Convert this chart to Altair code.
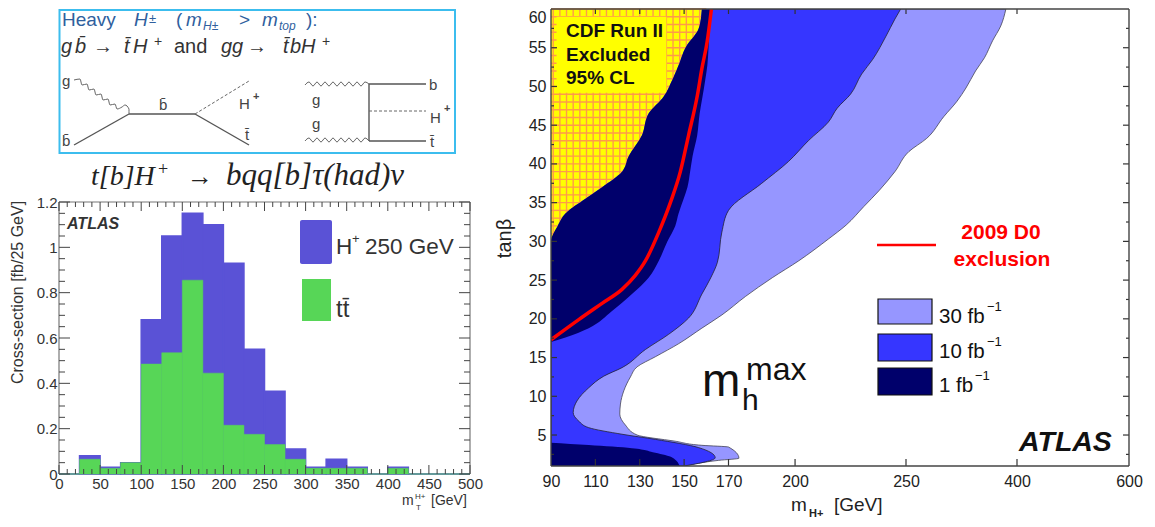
import altair as alt
import pandas as pd

# ---- histogram values (per 25 GeV bin)
bin_lo = list(range(0, 500, 25))
bin_hi = [b + 25 for b in bin_lo]
signal = [0, .08, .03, .05, .68, 1.05, 1.15, 1.10, .93, .55, .365, .11, .03, .065, .03, 0, .03, 0, 0, 0]
ttbar = [0, .065, .025, .05, .485, .535, .855, .445, .215, .175, .13, .065, .025, .025, .025, 0, .025, 0, 0, 0]
hist_x_major = list(range(0, 501, 50))
hist_x_minor = [v for v in range(0, 501, 10) if v % 50]
hist_y_major = [0, .2, .4, .6, .8, 1, 1.2]
hist_y_minor = [.05, .1, .15, .25, .3, .35, .45, .5, .55, .65, .7, .75, .85, .9, .95, 1.05, 1.1, 1.15]

# ---- contour boundaries (tan beta, m_H+)
c30_y = [1, 1.73, 2, 3.45, 3.67, 4.2, 5, 6.3, 7.7, 9, 10.7, 12.5, 13.8, 15.1, 16.8, 18.8, 20.5, 22.9, 25.3, 27.5, 30.3, 32.1, 34.5, 36.6, 39, 41.6, 43.3, 46.1, 48.1, 49.8, 52, 53.7, 55.9, 57.8, 60]
c30_x = [150, 165.6, 174.7, 170, 158, 146, 128.8, 123.5, 121, 121.3, 122.8, 125.8, 128.8, 137, 147.6, 158, 167, 177.7, 189.7, 201.7, 215, 223, 231, 238, 245, 254, 278, 301, 319, 331, 344, 356, 367, 378, 385]
c10_y = [1, 2.07, 3.37, 4.44, 5.1, 5.95, 6.8, 7.9, 9.4, 11.1, 12.6, 13.7, 16.05, 18, 20.1, 23.2, 25.3, 27.3, 31.2, 34, 37.5, 40.3, 43, 45.4, 47.2, 49, 51.6, 53.5, 56.5, 58.7, 60]
c10_x = [150, 164, 156.6, 137, 122, 107, 102.5, 100, 101.7, 107, 113.8, 122, 132.6, 143, 152, 158, 162, 165, 167, 170, 185, 197, 206, 215, 219, 225, 230, 235, 241, 245, 247.6]
d_y = [17, 17.6, 18.8, 21, 23.2, 25.3, 27.5, 30, 32, 33.6, 35.5, 37, 39, 41, 43.7, 46.5, 48.7, 50.8, 52.8, 55, 57.5, 60]
d_left = [90, 90, 90, 90, 90, 90, 90, 90, 93, 96.5, 105.5, 113, 122, 125, 131, 134, 140.8, 144.6, 147.6, 150.6, 156.6, 158]
d_right = [90, 96.5, 107, 117.5, 126.5, 134, 138.6, 142.5, 146, 147.5, 149.8, 151.5, 152.7, 153.8, 155.9, 157, 158.3, 159.5, 160.5, 161, 161.5, 162.3]
low_y = [1, 2.1, 2.7, 3.3, 3.7, 4]
low_x = [148, 144.6, 137, 126.5, 107, 90]
red_x = [90, 102.5, 113, 122, 128, 132.6, 138.6, 143.8, 148.3, 152, 156, 158, 160.4, 162.3]
red_y = [17.3, 19.9, 22, 23.8, 25.6, 27.5, 31.2, 35, 39, 43.7, 48.9, 52.3, 55.8, 60]
hatch_rows = list(range(31, 61))
hatch_row_end = [95, 96, 98, 100, 106, 110, 116, 120, 125, 127, 128, 130, 133, 135, 137, 137, 140, 142, 145, 147, 148, 150, 151, 152, 154, 156, 158, 159, 160, 160]
hatch_cols = [91, 94, 97, 100, 103, 106, 109, 112, 115, 118, 121, 124, 127, 130, 133, 136, 139, 142, 145, 148, 151, 154, 157]
hatch_col_low = [30, 32, 33, 33.5, 34, 34.5, 35, 36, 36.5, 37, 38, 39, 41, 42, 44, 46, 47, 48, 50, 52, 54, 55, 57]
cont_x_ticks = [90, 110, 130, 150, 170, 200, 250, 400, 600]
cont_y_major = list(range(5, 61, 5))
cont_y_minor = [2.5, 7.5, 12.5, 17.5, 22.5, 27.5, 32.5, 37.5, 42.5, 47.5, 52.5, 57.5]

# ---- layout (screen pixels)
TOP_O, TOP_W, TOP_H = (60, 8), 411, 182
HIST_O, HIST_W, HIST_H = (60, 201), 411, 272
CONT_O, CONT_W, CONT_H = (552, 8), 578, 457

SANS = "Liberation Sans"
SERIF = "Liberation Serif"
PURPLE, GREEN = "#5A52D6", "#57D657"
C1, C10, C30 = "#00006B", "#3636FF", "#9696FF"

AXES = {}


def X(field, scale):
    return alt.X(field, scale=scale, axis=AXES[id(scale)])


def Y(field, scale):
    return alt.Y(field, scale=scale, axis=AXES[id(scale)], stack=None)


def piece(v, dom, rng):
    """position on screen -> value on a (piecewise) linear scale"""
    for i in range(len(dom) - 1):
        if i == len(dom) - 2 or (rng[i + 1] - v) * (rng[1] - rng[0]) >= 0:
            return dom[i] + (v - rng[i]) * (dom[i + 1] - dom[i]) / (rng[i + 1] - rng[i])


class Panel:
    def __init__(self, origin, xscale, yscale):
        self.o, self.x, self.y = origin, xscale, yscale

    def texts(self, rows, **mark):
        """rows: (text, screen x, screen y of the baseline)"""
        df = pd.DataFrame(rows, columns=["t", "px", "py"])
        df["vx"] = [piece(p - self.o[0], self.x.domain, self.x.range) for p in df["px"]]
        df["vy"] = [piece(p - self.o[1], self.y.domain, self.y.range) for p in df["py"]]
        mark.setdefault("font", SANS)
        mark.setdefault("align", "left")
        mark.setdefault("baseline", "alphabetic")
        return alt.Chart(df).mark_text(**mark).encode(
            x=X("vx:Q", self.x), y=Y("vy:Q", self.y), text="t:N")


def xticks(vals, scale, y, y2, color, w):
    return alt.Chart(pd.DataFrame({"v": vals})).mark_rule(color=color, strokeWidth=w).encode(
        x=X("v:Q", scale), y=alt.value(y), y2=alt.value(y2))


def yticks(vals, scale, x, x2, color, w):
    return alt.Chart(pd.DataFrame({"v": vals})).mark_rule(color=color, strokeWidth=w).encode(
        y=Y("v:Q", scale), x=alt.value(x), x2=alt.value(x2))


def frame(W, H, color, w):
    d = alt.Chart(pd.DataFrame({"a": [0]}))
    m = d.mark_rule(color=color, strokeWidth=w)
    return [
        m.encode(x=alt.value(0), x2=alt.value(W), y=alt.value(0)),
        m.encode(x=alt.value(0), x2=alt.value(W), y=alt.value(H)),
        m.encode(x=alt.value(0), y=alt.value(0), y2=alt.value(H)),
        m.encode(x=alt.value(W), y=alt.value(0), y2=alt.value(H)),
    ]


# ---------------- top panel: diagrams
tx = alt.Scale(domain=[60, 471], range=[0, TOP_W], nice=False)
ty = alt.Scale(domain=[8, 190], range=[0, TOP_H], nice=False)
AXES[id(tx)] = None
AXES[id(ty)] = None
TP = Panel(TOP_O, tx, ty)
box = alt.Chart(pd.DataFrame({"x": [60.5], "x2": [456], "y": [9], "y2": [152]})).mark_rect(
    fill="white", stroke="#3CBDEE", strokeWidth=2).encode(
    x=X("x:Q", tx), x2="x2:Q", y=Y("y:Q", ty), y2="y2:Q")

solid = pd.DataFrame(
    [(75, 144, 130, 113), (130, 113, 196, 113), (196, 113, 250, 144),
     (370, 83, 370, 140), (370, 83, 427, 83), (370, 140, 427, 140)],
    columns=["x", "y", "x2", "y2"])
dashed = pd.DataFrame([(196, 113, 250, 80), (370, 110, 427, 110)], columns=["x", "y", "x2", "y2"])


def segs(df, **mark):
    return alt.Chart(df).mark_rule(**mark).encode(
        x=X("x:Q", tx), x2="x2:Q", y=Y("y:Q", ty), y2="y2:Q")


glu_a = [(75, 79), (81, 78), (83, 84), (88, 83), (90, 89), (95, 88), (97, 94), (102, 93), (104, 99), (109, 98), (111, 104), (116, 103), (118, 108), (123, 106), (126, 104), (130, 108), (130, 113)]
glu_b = [(306, 84), (310, 81), (314, 85), (318, 81), (322, 85), (326, 81), (330, 85), (334, 81), (338, 85), (342, 81), (346, 85), (350, 81), (354, 85), (358, 81), (362, 85), (366, 81), (370, 83)]
glu_c = [(306, 140), (310, 137), (314, 141), (318, 137), (322, 141), (326, 137), (330, 141), (334, 137), (338, 141), (342, 137), (346, 141), (350, 137), (354, 141), (358, 137), (362, 141), (366, 137), (370, 140)]
glu_rows = [(k, i, x, y) for k, pts in enumerate([glu_a, glu_b, glu_c]) for i, (x, y) in enumerate(pts)]
gluons = alt.Chart(pd.DataFrame(glu_rows, columns=["k", "i", "x", "y"])).mark_line(
    color="#666666", strokeWidth=1, interpolate="monotone").encode(
    x=X("x:Q", tx), y=Y("y:Q", ty), detail="k:N", order="i:Q")

BL, GR = "#2F5F9E", "#333333"
top_layers = [
    box,
    segs(solid, color="#555555", strokeWidth=1.4),
    segs(dashed, color="#666666", strokeWidth=1, strokeDash=[3, 2]),
    gluons,
    TP.texts([("Heavy", 63, 25), ("(", 177, 25), (">", 240, 25), ("):", 307, 25)], fontSize=19, color=BL),
    TP.texts([("H", 135, 25), ("m", 187, 25), ("m", 263, 25)], fontSize=19, color=BL, fontStyle="italic"),
    TP.texts([("±", 150, 22)], fontSize=13, color=BL),
    TP.texts([("H±", 204, 29), ("top", 280, 29)], fontSize=12, color=BL, fontStyle="italic"),
    TP.texts([("g", 62, 52), ("b̄", 76, 52), ("t̄", 125, 52), ("H", 134, 52), ("gg", 222, 52), ("t̄", 284, 52), ("b", 291, 52), ("H", 302, 52)],
             fontSize=20, color=GR, fontStyle="italic"),
    TP.texts([("→", 94, 52), ("and", 175, 52), ("→", 248, 52)], fontSize=20, color=GR),
    TP.texts([("+", 155, 45), ("+", 323, 45)], fontSize=14, color=GR),
    TP.texts([("g", 63, 85), ("b̄", 63, 145), ("b̄", 160, 109), ("t̄", 246, 139), ("g", 313, 104), ("g", 313, 128),
              ("b", 430, 89), ("t̄", 431, 146)], fontSize=15, color="#444444"),
    TP.texts([("H", 240, 108), ("H", 431, 122)], fontSize=15, color="#444444"),
    TP.texts([("+", 254, 99), ("+", 445, 111)], fontSize=11, color="#444444", fontWeight="bold"),
    TP.texts([("t[b]H", 92, 184)], font=SERIF, fontSize=28, color="#222222", fontStyle="italic"),
    TP.texts([("bqq[b]τ(had)ν", 227, 184)], font=SERIF, fontSize=31, color="#222222", fontStyle="italic"),
    TP.texts([("+", 159, 174)], font=SERIF, fontSize=18, color="#222222"),
    TP.texts([("→", 188, 184)], font=SERIF, fontSize=26, color="#222222"),
]
top = alt.layer(*top_layers).properties(width=TOP_W, height=TOP_H, view=alt.ViewConfig(stroke=None))

# ---------------- histogram
hx = alt.Scale(domain=[0, 500], range=[0, HIST_W], nice=False)
hy = alt.Scale(domain=[0, 1.2], range=[HIST_H, 0], nice=False)
AXES[id(hx)] = alt.Axis(values=hist_x_major, title=None, domain=False, ticks=False, grid=False, labelFont=SANS,
                        labelFontSize=15, labelColor="#333333", labelPadding=2, labelFlush=False, format="d")
AXES[id(hy)] = alt.Axis(values=hist_y_major, title="Cross-section [fb/25 GeV]", domain=False, ticks=False, grid=False,
                        labelFont=SANS, labelFontSize=15, labelColor="#333333", labelPadding=2, format="~g",
                        titleFont=SANS, titleFontSize=16, titleFontWeight="normal", titleColor="#333333",
                        titleX=-42, titleY=90, titleAngle=270, titleAlign="center", titleBaseline="middle")
HP = Panel(HIST_O, hx, hy)
hdf = pd.DataFrame({"lo": bin_lo, "hi": bin_hi, "signal": signal, "ttbar": ttbar, "zero": 0})
sig = alt.Chart(hdf).mark_rect(color=PURPLE, stroke=PURPLE, strokeWidth=1.5).encode(
    x=X("lo:Q", hx), x2="hi:Q", y=Y("signal:Q", hy), y2="zero:Q")
bkg = alt.Chart(hdf).mark_rect(color=GREEN, stroke=GREEN, strokeWidth=0.5).encode(
    x=X("lo:Q", hx), x2="hi:Q", y=Y("ttbar:Q", hy), y2="zero:Q")
TC = "#444444"
swatch = alt.Chart(pd.DataFrame({"a": [0]}))
hist_layers = [
    *frame(HIST_W, HIST_H, "#777777", 1.2),
    sig, bkg,
    xticks(hist_x_major, hx, HIST_H, HIST_H - 9, TC, 1),
    xticks(hist_x_minor, hx, HIST_H, HIST_H - 5, TC, 1),
    xticks(hist_x_major, hx, 0, 9, TC, 1),
    xticks(hist_x_minor, hx, 0, 5, TC, 1),
    yticks(hist_y_major, hy, 0, 11, TC, 1),
    yticks(hist_y_minor, hy, 0, 6, TC, 1),
    yticks(hist_y_major, hy, HIST_W, HIST_W - 11, TC, 1),
    yticks(hist_y_minor, hy, HIST_W, HIST_W - 6, TC, 1),
    swatch.mark_rect(color=PURPLE, cornerRadius=2).encode(x=alt.value(301 - 60), x2=alt.value(333 - 60), y=alt.value(219 - 201), y2=alt.value(263 - 201)),
    swatch.mark_rect(color=GREEN).encode(x=alt.value(303 - 60), x2=alt.value(332 - 60), y=alt.value(278 - 201), y2=alt.value(320 - 201)),
    HP.texts([("H", 337, 253), ("250 GeV", 366, 253)], fontSize=22.5, color="#333333"),
    HP.texts([("+", 353, 242)], fontSize=13, color="#333333"),
    HP.texts([("tt̄", 337, 316)], fontSize=24, color="#333333"),
    HP.texts([("ATLAS", 68, 228)], fontSize=16, fontWeight="bold", fontStyle="italic", color="#333333"),
    HP.texts([("m", 403, 504), ("[GeV]", 432, 504)], fontSize=14, color="#333333"),
    HP.texts([("H+", 416, 498), ("T", 417, 509)], fontSize=8, color="#333333"),
]
hist = alt.layer(*hist_layers).properties(width=HIST_W, height=HIST_H, view=alt.ViewConfig(stroke=None))

# ---------------- contour
cx = alt.Scale(type="linear", domain=[90, 250, 400, 600], range=[0, 355, 466, CONT_W], nice=False)
cy = alt.Scale(domain=[1, 60], range=[CONT_H, 0], nice=False)
AXES[id(cx)] = alt.Axis(values=cont_x_ticks, title=None, domain=False, ticks=False, grid=False, labelFont=SANS,
                        labelFontSize=16, labelColor="#222222", labelPadding=7, labelFlush=False)
AXES[id(cy)] = alt.Axis(values=cont_y_major, title="tanβ", domain=False, ticks=False, grid=False, labelFont=SANS,
                        labelFontSize=16, labelColor="#222222", labelPadding=5, labelFlush=True,
                        titleFont=SANS, titleFontSize=20, titleFontWeight="normal", titleColor="#222222",
                        titleX=-47, titleY=229, titleAngle=270, titleAlign="center", titleBaseline="middle")
CP = Panel(CONT_O, cx, cy)


def region(ys, xs, x2, color, stroke=None):
    df = pd.DataFrame({"y": ys, "x": xs, "x2": x2})
    kw = {"stroke": stroke, "strokeWidth": 0.8} if stroke else {}
    return alt.Chart(df).mark_area(orient="horizontal", color=color, clip=True, interpolate="monotone", **kw).encode(
        x=X("x:Q", cx), x2="x2:Q", y=Y("y:Q", cy))


HATCH = "#FF9A4A"
hrow = pd.DataFrame({"y": hatch_rows, "x": [90] * len(hatch_rows), "x2": hatch_row_end})
hcol = pd.DataFrame({"x": hatch_cols, "y": hatch_col_low, "y2": [60] * len(hatch_cols)})
cover = pd.DataFrame({"x": [92.5], "x2": [142], "y": [49.2], "y2": [59]})
red_df = pd.DataFrame({"x": red_x, "y": red_y, "i": range(len(red_x))})
cont_layers = [
    region(c30_y, c30_x, [90] * len(c30_x), C30, "#445"),
    region(c10_y, c10_x, [90] * len(c10_x), C10, "#223"),
    region(d_y[7:], d_left[7:], [90] * len(d_left[7:]), "#FFFF00"),
    alt.Chart(hrow).mark_rule(color=HATCH, strokeWidth=1.4).encode(
        x=X("x:Q", cx), x2="x2:Q", y=Y("y:Q", cy)),
    alt.Chart(hcol).mark_rule(color=HATCH, strokeWidth=1.4).encode(
        x=X("x:Q", cx), y=Y("y:Q", cy), y2="y2:Q"),
    alt.Chart(cover).mark_rect(color="#FFFF00").encode(
        x=X("x:Q", cx), x2="x2:Q", y=Y("y:Q", cy), y2="y2:Q"),
    region(d_y, d_right, d_left, C1),
    region(low_y, low_x, [90] * len(low_x), C1),
    alt.Chart(red_df).mark_line(color="#FF0000", strokeWidth=3.5, clip=True, interpolate="monotone").encode(
        x=X("x:Q", cx), y=Y("y:Q", cy), order="i:Q"),
    xticks(cont_x_ticks[1:-1], cx, CONT_H, CONT_H - 7, "#333333", 1.2),
    xticks(cont_x_ticks[1:-1], cx, 0, 5, "#333333", 1.2),
    yticks(cont_y_major[:-1], cy, 0, 6, "#333333", 1.2),
    yticks(cont_y_minor, cy, 0, 3, "#333333", 1.2),
    yticks(cont_y_major[:-1], cy, CONT_W, CONT_W - 6, "#333333", 1.2),
    yticks(cont_y_minor, cy, CONT_W, CONT_W - 3, "#333333", 1.2),
    *frame(CONT_W, CONT_H, "#444444", 1.4),
    CP.texts([("CDF Run II", 567, 36), ("Excluded", 567, 60), ("95% CL", 567, 83)], fontSize=19, fontWeight="bold", color="#111111"),
    CP.texts([("2009 D0", 1002, 238), ("exclusion", 1003, 265)], fontSize=21, fontWeight="bold", color="#FF0000", align="center"),
    swatch.mark_rule(color="#FF0000", strokeWidth=2.5).encode(x=alt.value(878 - 552), x2=alt.value(937 - 552), y=alt.value(244 - 8)),
    swatch.mark_rect(color=C30, stroke="#111111", strokeWidth=1.2).encode(x=alt.value(879 - 552), x2=alt.value(933 - 552), y=alt.value(298 - 8), y2=alt.value(323 - 8)),
    swatch.mark_rect(color=C10, stroke="#111111", strokeWidth=1.2).encode(x=alt.value(879 - 552), x2=alt.value(933 - 552), y=alt.value(333 - 8), y2=alt.value(360 - 8)),
    swatch.mark_rect(color=C1, stroke="#111111", strokeWidth=1.2).encode(x=alt.value(879 - 552), x2=alt.value(933 - 552), y=alt.value(367 - 8), y2=alt.value(394 - 8)),
    CP.texts([("30 fb", 940, 322), ("10 fb", 940, 357), ("1 fb", 940, 391)], fontSize=20.5, color="#111111"),
    CP.texts([("−1", 988, 310), ("−1", 988, 345), ("−1", 976, 379)], fontSize=13, color="#111111"),
    CP.texts([("ATLAS", 1020, 450)], fontSize=28.5, fontWeight="bold", fontStyle="italic", color="#111111"),
    CP.texts([("m", 703, 395)], fontSize=46, color="#111111"),
    CP.texts([("max", 747, 379)], fontSize=32, color="#111111"),
    CP.texts([("h", 743, 409)], fontSize=30, color="#111111"),
    CP.texts([("m", 792, 510), ("[GeV]", 835, 510)], fontSize=19, color="#222222"),
    CP.texts([("H+", 810, 516)], fontSize=11, fontWeight="bold", color="#222222"),
]
cont = alt.layer(*cont_layers).properties(width=CONT_W, height=CONT_H, view=alt.ViewConfig(stroke=None))

left = alt.vconcat(top, hist, spacing=11, bounds="flush")
chart = alt.hconcat(left, cont, spacing=492, bounds="flush").properties(
    padding={"left": 0, "top": 0, "right": 0, "bottom": 0}, background="white")
chart.save("out.html", embed_options={"renderer": "svg", "actions": False})
